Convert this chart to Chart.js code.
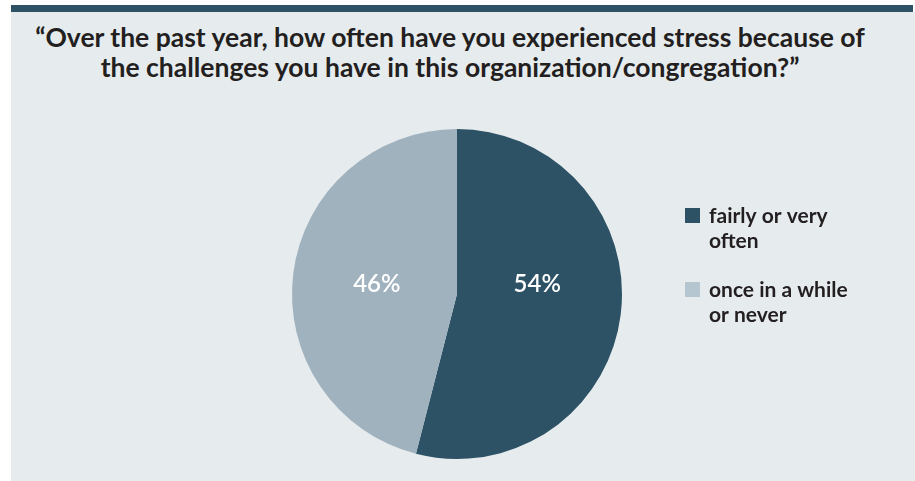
<!DOCTYPE html>
<html>
<head>
<meta charset="utf-8">
<script src="https://cdn.jsdelivr.net/npm/chart.js@4.4.1/dist/chart.umd.min.js"></script>
<style>
  html, body { margin: 0; padding: 0; background: #ffffff; }
  body { width: 915px; height: 481px; position: relative; overflow: hidden; }
  #barra { position: absolute; left: 11px; top: 5px; width: 902px; height: 7px; background: #2d5266; }
  #panel { position: absolute; left: 11px; top: 12px; width: 904px; height: 469px; background: #e6ebee; }
  #titulo {
    position: absolute; left: 0; top: 10px; width: 878px;
    text-align: center; font-family: Lato, sans-serif; font-weight: 700;
    font-size: 26.5px; line-height: 30px; color: #231f20;
  }
  #lienzo { position: absolute; left: 0; top: 88px; }
</style>
</head>
<body>
<div id="barra"></div>
<div id="panel">
  <div id="titulo">“Over the past year, how often have you experienced stress because of<br>the challenges you have in this organization/congregation?”</div>
  <canvas id="lienzo" width="904" height="381"></canvas>
</div>
<script>
const categorias = ['fairly or very often', 'once in a while or never'];
const lineasLeyenda = [['fairly or very', 'often'], ['once in a while', 'or never']];
const porcentajes = [54, 46];
const coloresPorcion = ['#2d5266', '#a1b2bf'];
const coloresLeyenda = ['#2d5266', '#b5c6d0'];

// etiquetas de porcentaje, a media distancia del centro y a la misma altura
const etiquetasPlugin = {
  id: 'etiquetas',
  afterDatasetsDraw(chart) {
    const ctx = chart.ctx;
    const meta = chart.getDatasetMeta(0);
    ctx.save();
    ctx.fillStyle = '#ffffff';
    ctx.font = '600 24px Lato, sans-serif';
    ctx.textAlign = 'center';
    ctx.textBaseline = 'middle';
    meta.data.forEach((arco, i) => {
      const medio = (arco.startAngle + arco.endAngle) / 2;
      const x = arco.x + Math.cos(medio) * arco.outerRadius * 0.49;
      ctx.fillText(porcentajes[i] + '%', x, arco.y - 10);
    });
    ctx.restore();
  }
};

// leyenda a la derecha con textos en dos lineas
const leyendaPlugin = {
  id: 'leyendaDerecha',
  afterDraw(chart) {
    const ctx = chart.ctx;
    const arco = chart.getDatasetMeta(0).data[0];
    const x0 = arco.x + 228;
    let y = arco.y - 71;
    ctx.save();
    ctx.font = 'bold 21px Lato, sans-serif';
    ctx.textBaseline = 'alphabetic';
    ctx.textAlign = 'left';
    lineasLeyenda.forEach((lineas, i) => {
      ctx.fillStyle = coloresLeyenda[i];
      ctx.fillRect(x0, y - 15, 15, 15);
      ctx.fillStyle = '#231f20';
      lineas.forEach((t, j) => ctx.fillText(t, x0 + 24, y + j * 25));
      y += 74;
    });
    ctx.restore();
  }
};

new Chart(document.getElementById('lienzo'), {
  type: 'pie',
  data: {
    labels: categorias,
    datasets: [{
      data: porcentajes,
      backgroundColor: coloresPorcion,
      borderWidth: 0
    }]
  },
  options: {
    responsive: false,
    animation: false,
    layout: { padding: { top: 29, bottom: 22, left: 0, right: 12 } },
    plugins: {
      legend: { display: false },
      tooltip: { enabled: false },
      title: { display: false }
    }
  },
  plugins: [etiquetasPlugin, leyendaPlugin]
});
</script>
</body>
</html>
